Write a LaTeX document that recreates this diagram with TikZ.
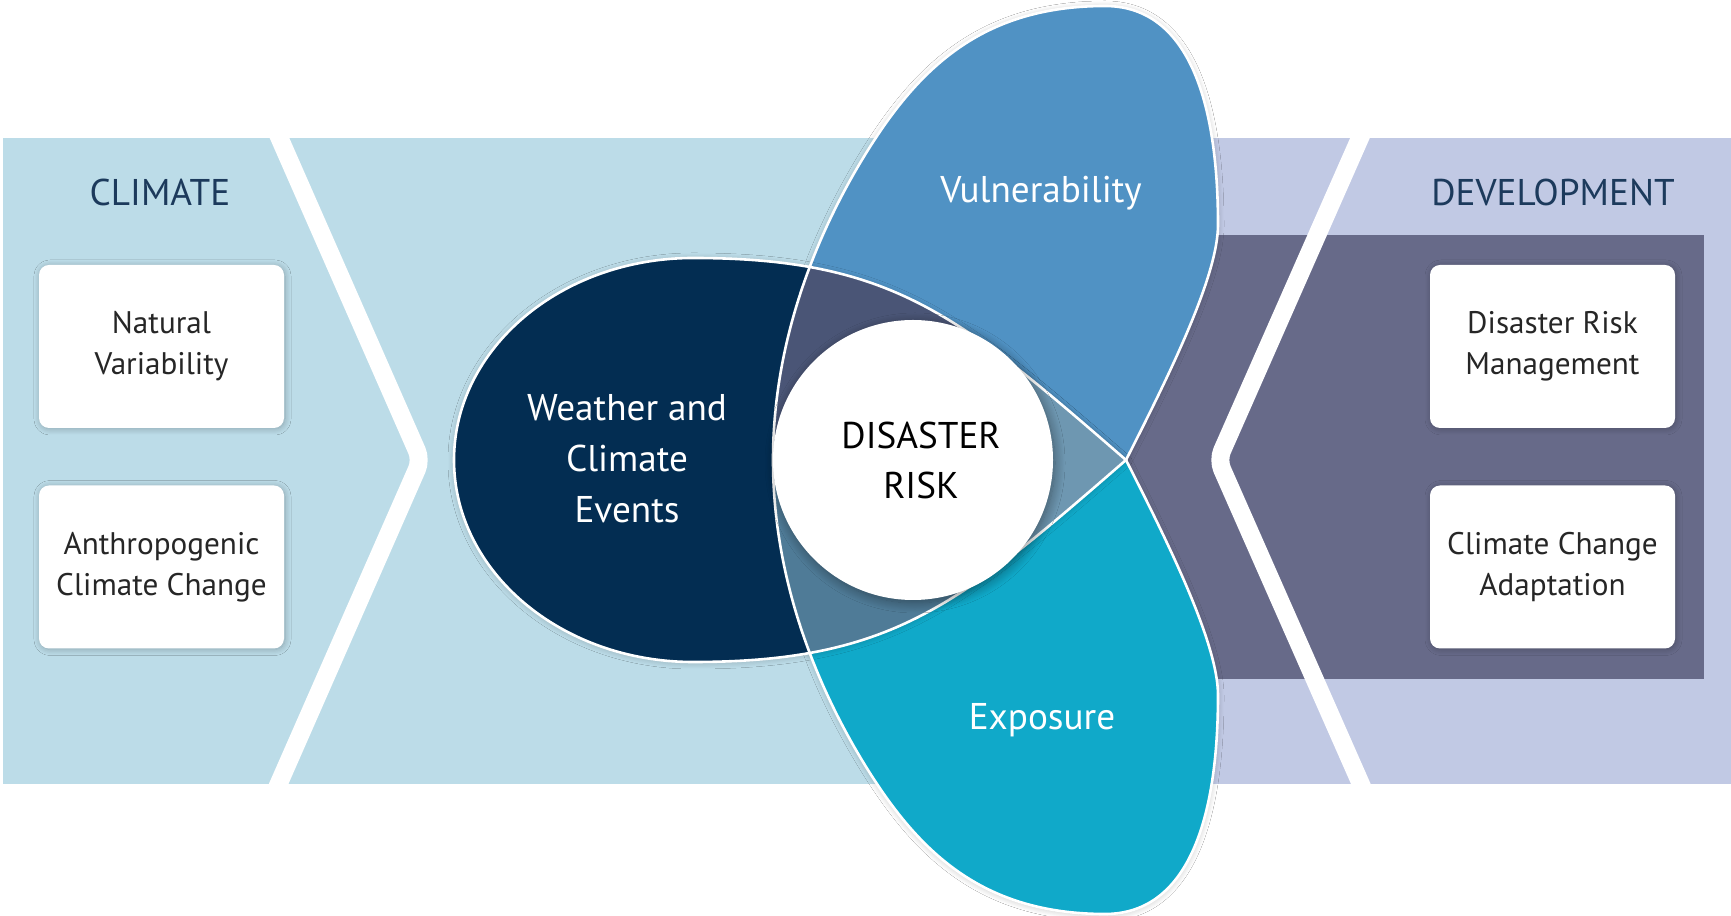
\documentclass[tikz,border=0pt]{standalone}
\usepackage{fontspec}
\setmainfont{PT Sans}
\usetikzlibrary{shadows.blur}

\definecolor{bandblue}{RGB}{188,220,232}
\definecolor{bandlilac}{RGB}{193,201,228}
\definecolor{banddark}{RGB}{103,106,137}
\definecolor{titleblue}{RGB}{28,58,92}
\definecolor{weathernavy}{RGB}{3,45,82}
\definecolor{vulnblue}{RGB}{80,146,196}
\definecolor{expocyan}{RGB}{16,169,201}
\definecolor{wvslate}{RGB}{74,85,118}
\definecolor{westeel}{RGB}{79,123,151}
\definecolor{allgrey}{RGB}{110,151,177}

% shapes around the centre of the risk circle
\newcommand{\weatherpath}{(213,0) .. controls (47,144) and (-20,202) .. (-220,202)
  .. controls (-352,202) and (-459,111.5) .. (-459,0)
  .. controls (-459,-111.5) and (-352,-202) .. (-220,-202)
  .. controls (-20,-202) and (47,-144) .. (213,0) -- cycle}
\newcommand{\petalrim}{(213,0) .. controls (258.4,89.1) and (305,185) .. (305,235)
  .. controls (305,370) and (270,454) .. (192,454)
  .. controls (72,454) and (8,394.8) .. (-45,310)
  .. controls (-92.7,233.7) and (-140,125) .. (-140,0)}
\newcommand{\petalpath}{(213,0) .. controls (258.4,89.1) and (305,185) .. (305,235)
  .. controls (305,370) and (270,454) .. (192,454)
  .. controls (72,454) and (8,394.8) .. (-45,310)
  .. controls (-92.7,233.7) and (-140,125) .. (-140,0)
  -- (0,0) -- (84.07,-107.13) .. controls (122.31,-78.66) and (163.2,-43.2) .. (213,0) -- cycle}

\begin{document}
\begin{tikzpicture}[x=0.5pt,y=0.5pt,node distance={110.25pt},
  stripe/.style = {white,line width=9pt,rounded corners=5pt},
  rim/.style = {white,line width=1.3pt},
  soft/.style = {blur shadow={shadow blur radius=3pt,shadow xshift=0pt,shadow yshift=-0.5pt,shadow opacity=22,shadow blur steps=12}},
  card/.style = {fill=white,rounded corners=5pt,minimum width=122.5pt,minimum height=81.5pt,
    align=center,text=black!85,font=\fontsize{15.6}{20.5}\selectfont,
    blur shadow={shadow blur radius=3pt,shadow xshift=0.5pt,shadow yshift=-0.5pt,shadow opacity=25,shadow blur steps=12}},
  title/.style = {text=titleblue,font=\fontsize{18.6}{24}\selectfont},
  petaltext/.style = {text=white,align=center,font=\fontsize{18.6}{25.5}\selectfont},
  core/.style = {circle,fill=white,minimum size=140pt,align=center,text=black,
    font=\fontsize{18.6}{25}\selectfont,
    blur shadow={shadow blur radius=5pt,shadow xshift=1pt,shadow yshift=-1.5pt,shadow opacity=40,shadow blur steps=12}}]

  \useasboundingbox (0,0) rectangle (1731,916);
  \fill[white] (0,0) rectangle (1731,916);

  % bands
  \fill[bandblue] (3,132) rectangle (1100,778);
  \fill[bandlilac] (1100,132) rectangle (1731,778);
  \fill[banddark] (1100,237) rectangle (1704,681);
  \begin{scope}
    \clip (3,132) rectangle (1731,778);
    \draw[stripe] (270.7,798) -- (421,456) -- (270.7,114);
    \draw[stripe] (1368.8,798) -- (1218,456) -- (1368.8,114);
  \end{scope}

  % petals
  \begin{scope}[shift={(913,456)}]
    \fill[vulnblue,soft] \petalpath;
    \begin{scope}[yscale=-1]
      \fill[expocyan,soft] \petalpath;
    \end{scope}
    \fill[weathernavy,soft] \weatherpath;
    \begin{scope}
      \clip \weatherpath;
      \fill[wvslate] \petalpath;
      \begin{scope}[yscale=-1]
        \fill[westeel] \petalpath;
      \end{scope}
      \clip \petalpath;
      \begin{scope}[yscale=-1]
        \fill[allgrey] \petalpath;
      \end{scope}
    \end{scope}
    \draw[rim] \weatherpath;
    \draw[rim] \petalrim;
    \begin{scope}[yscale=-1]
      \draw[rim] \petalrim;
    \end{scope}
  \end{scope}

  \node[core](risk) at (913,456) {\hspace*{8pt}DISASTER\\\hspace*{8pt}RISK};
  \node[petaltext](weather) at (627,457) {Weather and\\Climate\\Events};
  \node[petaltext](vuln) at (1041,723) {Vulnerability};
  \node[petaltext](expo) at (1042,196) {Exposure};

  \node[title](climate) at (160,724) {CLIMATE};
  \node[title](development) at (1553,724) {DEVELOPMENT};

  \node[card](natvar) at (161.5,569.5) {Natural\\Variability};
  \node[card](anthro)[below of=natvar] {Anthropogenic\\Climate Change};
  \node[card](drm) at (1552.5,569.5) {Disaster Risk\\Management};
  \node[card](cca)[below of=drm] {Climate Change\\Adaptation};
\end{tikzpicture}
\end{document}
